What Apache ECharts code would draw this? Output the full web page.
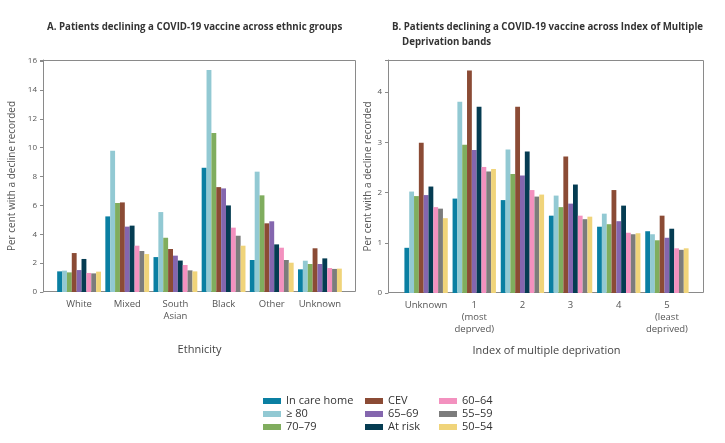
<!DOCTYPE html>
<html><head><meta charset="utf-8">
<script src="https://cdn.jsdelivr.net/npm/echarts@6/dist/echarts.min.js"></script>
<style>html,body{margin:0;padding:0;background:#fff}#c{width:725px;height:443px}</style>
</head><body><div id="c"></div>
<script>
const seriesNames = ['In care home','≥ 80','70–79','CEV','65–69','At risk','60–64','55–59','50–54'];
const colors = ['#0a7fa2','#92c9d3','#80ad5e','#8b4b35','#8466ae','#053c52','#f391bf','#7c7c7c','#f0d47a'];
const ethnicCats = ['White','Mixed','South\nAsian','Black','Other','Unknown'];
const imdCats = ['Unknown','1\n(most\ndeprved)','2','3','4','5\n(least\ndeprived)'];
// values per series, by ethnicity (White, Mixed, South Asian, Black, Other, Unknown)
const ethCareHome = [1.43,5.24,2.42,8.61,2.22,1.57];
const eth80plus   = [1.48,9.79,5.54,15.38,8.34,2.17];
const eth7079     = [1.36,6.17,3.76,11.02,6.70,1.94];
const ethCEV      = [2.70,6.21,2.98,7.27,4.76,3.03];
const eth6569     = [1.52,4.53,2.52,7.18,4.90,1.94];
const ethAtRisk   = [2.29,4.60,2.18,6.00,3.30,2.33];
const eth6064     = [1.32,3.21,1.87,4.46,3.07,1.66];
const eth5559     = [1.29,2.84,1.50,3.90,2.22,1.60];
const eth5054     = [1.41,2.63,1.43,3.21,2.03,1.62];
// values per series, by IMD band (Unknown, 1..5)
const imdCareHome = [0.90,1.88,1.85,1.54,1.32,1.23];
const imd80plus   = [2.02,3.81,2.86,1.94,1.58,1.17];
const imd7079     = [1.93,2.95,2.37,1.71,1.37,1.05];
const imdCEV      = [2.99,4.43,3.71,2.72,2.05,1.54];
const imd6569     = [1.95,2.85,2.34,1.78,1.43,1.10];
const imdAtRisk   = [2.12,3.71,2.82,2.16,1.74,1.28];
const imd6064     = [1.71,2.51,2.05,1.54,1.20,0.89];
const imd5559     = [1.68,2.42,1.92,1.47,1.17,0.86];
const imd5054     = [1.49,2.47,1.96,1.52,1.19,0.89];
const leftTicks = [0,2,4,6,8,10,12,14,16];
const rightTicks = [0,1,2,3,4];

const ethData = [ethCareHome,eth80plus,eth7079,ethCEV,eth6569,ethAtRisk,eth6064,eth5559,eth5054];
const imdData = [imdCareHome,imd80plus,imd7079,imdCEV,imd6569,imdAtRisk,imd6064,imd5559,imd5054];

const FONT = 'Open Sans';
const axisGray = '#8a8a8a';
function yAxis(gridIndex, max, ticks, name, gap, offset){
  return {type:'value', gridIndex, min:0, max, interval:(ticks[1]-ticks[0]), offset,
    name, nameLocation:'middle', nameGap:gap, nameTextStyle:{fontFamily:FONT,fontSize:10,color:'#555'},
    axisLine:{show:true,lineStyle:{color:axisGray}}, axisTick:{show:true,length:3,lineStyle:{color:axisGray}},
    splitLine:{show:false},
    axisLabel:{fontFamily:FONT,fontSize:8,color:'#555',margin:6,
      formatter:v=> ticks.indexOf(Math.round(v*1000)/1000)>=0 ? String(v) : ''}};
}
function xAxis(gridIndex, cats, name){
  return {type:'category', gridIndex, data:cats, name, nameLocation:'middle', nameGap:52,
    nameTextStyle:{fontFamily:FONT,fontSize:11,color:'#444'},
    axisLine:{show:false}, axisTick:{alignWithLabel:true,length:3,lineStyle:{color:axisGray}},
    axisLabel:{interval:0,fontFamily:FONT,fontSize:9.5,color:'#555',lineHeight:12,margin:6}};
}
const series = [];
seriesNames.forEach((n,i)=>{
  series.push({name:n,type:'bar',xAxisIndex:0,yAxisIndex:0,data:ethData[i],itemStyle:{color:colors[i]},
    barGap:'0%',barCategoryGap:'9%'});
  series.push({name:n,type:'bar',xAxisIndex:1,yAxisIndex:1,data:imdData[i],itemStyle:{color:colors[i]},
    barGap:'0%',barCategoryGap:'10%'});
});
function legend(left, names){
  return {orient:'vertical', left, top:395, data:names, icon:'rect', itemWidth:18, itemHeight:6, itemGap:1,
    textStyle:{fontFamily:FONT,fontSize:11,color:'#333',lineHeight:12}, padding:0};
}
const chart = echarts.init(document.getElementById('c'));
chart.setOption({
  animation:false,
  textStyle:{fontFamily:FONT},
  title:[
    {text:'A. Patients declining a COVID-19 vaccine across ethnic groups',left:42,top:17,
     textStyle:{fontFamily:FONT,fontSize:9.7,fontWeight:'bold',color:'#333'}},
    {text:'B. Patients declining a COVID-19 vaccine across Index of Multiple\n    Deprivation bands',left:387,top:15,
     textStyle:{fontFamily:FONT,fontSize:9.7,fontWeight:'bold',color:'#333',lineHeight:15}}
  ],
  grid:[
    {left:55,right:381,top:60,bottom:151},
    {left:402,right:34,top:60,bottom:150}
  ],
  graphic:[
    {type:'rect',shape:{x:43.5,y:60.5,width:312,height:231},style:{fill:null,stroke:axisGray,lineWidth:1},z:0},
    {type:'rect',shape:{x:388.5,y:60.5,width:315,height:232},style:{fill:null,stroke:axisGray,lineWidth:1},z:0}
  ],
  xAxis:[xAxis(0,ethnicCats,'Ethnicity'), xAxis(1,imdCats,'Index of multiple deprivation')],
  yAxis:[yAxis(0,16.08,leftTicks,'Per cent with a decline recorded',26,12), yAxis(1,4.64,rightTicks,'Per cent with a decline recorded',14,14)],
  legend:[legend(263,seriesNames.slice(0,3)),legend(365,seriesNames.slice(3,6)),legend(439,seriesNames.slice(6,9))],
  series
});
</script></body></html>
